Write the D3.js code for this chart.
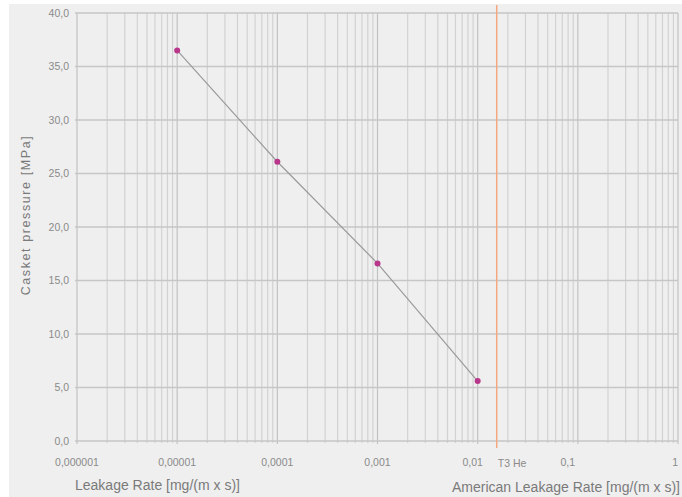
<!DOCTYPE html>
<html>
<head>
<meta charset="utf-8">
<script src="https://cdn.jsdelivr.net/npm/d3@7"></script>
<style>
  html, body { margin: 0; padding: 0; background: #ffffff; }
  svg { display: block; }
  text { font-family: "Liberation Sans", Arial, sans-serif; }
</style>
</head>
<body>
<svg id="chart" width="682" height="497"></svg>
<script>
// Data
const leakageRates = [0.00001, 0.0001, 0.001, 0.01];
const pressures = [36.5, 26.1, 16.6, 5.6];
const xTickValues = [0.000001, 0.00001, 0.0001, 0.001, 0.01, 0.1, 1];
const xTickLabels = ["0,000001", "0,00001", "0,0001", "0,001", "0,01", "0,1", "1"];
const yTickValues = [0, 5, 10, 15, 20, 25, 30, 35, 40];
const yTickLabels = ["0,0", "5,0", "10,0", "15,0", "20,0", "25,0", "30,0", "35,0", "40,0"];
const limitValue = 0.0155;
const limitLabel = "T3 He";
const xTitle = "Leakage Rate [mg/(m x s)]";
const xTitle2 = "American Leakage Rate [mg/(m x s)]";
const yTitle = "Casket pressure [MPa]";

const svg = d3.select("#chart");
const W = 682, H = 497;
const m = { left: 77, right: 4, top: 13, bottom: 56 };

svg.append("rect").attr("x", 9).attr("y", 4).attr("width", W - 9).attr("height", H - 4).attr("fill", "#efefef");

const x = d3.scaleLog().domain([0.000001, 1]).range([m.left, W - m.right]);
const y = d3.scaleLinear().domain([0, 40]).range([H - m.bottom, m.top]);

// minor vertical grid
const minor = [];
for (let e = -6; e < 0; e++) {
  for (let k = 2; k <= 9; k++) minor.push(k * Math.pow(10, e));
}
const g = svg.append("g");
g.selectAll(".minor").data(minor).join("line")
  .attr("x1", d => x(d)).attr("x2", d => x(d))
  .attr("y1", y(40)).attr("y2", y(0) + 2)
  .attr("stroke", "#d2d2d2").attr("stroke-width", 1.2);
g.selectAll(".major").data(xTickValues).join("line")
  .attr("x1", d => x(d)).attr("x2", d => x(d))
  .attr("y1", y(40)).attr("y2", y(0) + 3)
  .attr("stroke", "#c2c2c2").attr("stroke-width", 1.2);
g.selectAll(".hgrid").data(yTickValues).join("line")
  .attr("x1", x(0.000001) - 2).attr("x2", x(1))
  .attr("y1", d => y(d)).attr("y2", d => y(d))
  .attr("stroke", "#c6c6c6").attr("stroke-width", 1.4);

// Y axis labels
svg.append("g").selectAll("text").data(yTickValues).join("text")
  .attr("x", x(0.000001) - 8).attr("y", d => y(d) + 3.5)
  .attr("text-anchor", "end").attr("font-size", 10.5).attr("fill", "#8a8a8a")
  .text((d, i) => yTickLabels[i]);

// X axis labels
const xOffsets = [0, 0, 0, 0, -5, -10, 0];
svg.append("g").selectAll("text").data(xTickValues).join("text")
  .attr("x", (d, i) => x(d) + xOffsets[i])
  .attr("y", y(0) + 25)
  .attr("text-anchor", (d, i) => i === xTickValues.length - 1 ? "end" : "middle")
  .attr("font-size", 10.5).attr("fill", "#8a8a8a")
  .text((d, i) => xTickLabels[i]);

// Limit line
svg.append("line")
  .attr("x1", x(limitValue)).attr("x2", x(limitValue))
  .attr("y1", 5).attr("y2", y(0) + 7)
  .attr("stroke", "#f4a882").attr("stroke-width", 1.5);
svg.append("text").attr("x", x(limitValue) + 1).attr("y", y(0) + 26)
  .attr("font-size", 10.5).attr("fill", "#8a8a8a").text(limitLabel);

// Data line
const pts = leakageRates.map((d, i) => [d, pressures[i]]);
svg.append("path").datum(pts)
  .attr("d", d3.line().x(d => x(d[0])).y(d => y(d[1])))
  .attr("fill", "none").attr("stroke", "#9a9a9a").attr("stroke-width", 1.2);
svg.selectAll(".pt").data(pts).join("circle")
  .attr("cx", d => x(d[0])).attr("cy", d => y(d[1])).attr("r", 3)
  .attr("fill", "#b8378a");

// Titles
svg.append("text").attr("x", 75).attr("y", 490).attr("font-size", 14).attr("fill", "#7a7a7a").text(xTitle);
svg.append("text").attr("x", 680).attr("y", 492).attr("text-anchor", "end").attr("font-size", 14).attr("fill", "#7a7a7a").text(xTitle2);
svg.append("text").attr("transform", "translate(30,215) rotate(-90)")
  .attr("text-anchor", "middle").attr("font-size", 12.5).attr("fill", "#7a7a7a")
  .attr("letter-spacing", 1.6).text(yTitle);
</script>
</body>
</html>
